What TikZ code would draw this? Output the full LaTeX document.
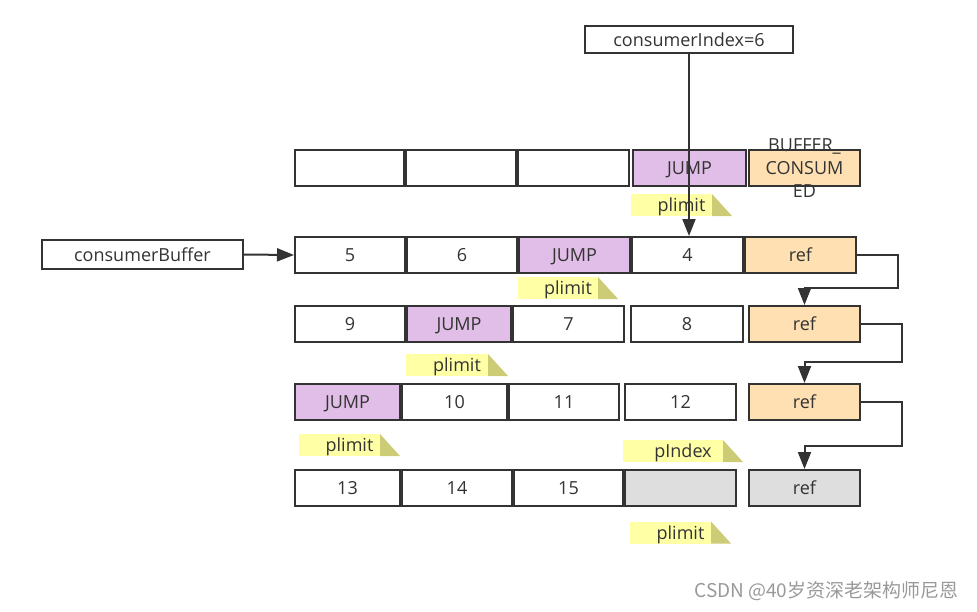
\documentclass[tikz,border=0pt]{standalone}
\usepackage{fontspec}
\setmainfont{Open Sans}
\newfontfamily\cjk{Noto Sans CJK SC}
\usetikzlibrary{arrows.meta}
\definecolor{linec}{HTML}{333333}
\definecolor{jumpc}{HTML}{E1BEE7}
\definecolor{refc}{HTML}{FFE0B2}
\definecolor{usedc}{HTML}{DEDEDE}
\definecolor{notec}{HTML}{FFFFA6}
\definecolor{foldc}{HTML}{CCCC77}
\begin{document}
\begin{tikzpicture}[x=1pt,y=-1pt,
  every node/.style={text=linec,font=\fontsize{18}{23}\selectfont},
  cell/.style={draw=linec,line width=2pt,inner sep=0pt,minimum height=36pt,text depth=0pt},
  tag/.style={inner sep=0pt,minimum height=22pt,text depth=0pt,path picture={
    \fill[notec] (path picture bounding box.north west) rectangle ([xshift=-20pt]path picture bounding box.south east);
    \fill[foldc] ([xshift=-20pt]path picture bounding box.north east) -- (path picture bounding box.south east)
      -- ([xshift=-20pt]path picture bounding box.south east) -- cycle;}},
  link/.style={draw=linec,line width=2pt,-{Triangle[width=13pt,length=17pt]}}]
  \useasboundingbox (0,0) rectangle (977,611);
  % the buffers, one row each
  \foreach \l/\r/\t/\f [count=\i] in {294/405//white,405/517//white,517/630//white,632/747/JUMP/jumpc,748/861//refc}
    \node[cell,fill=\f,minimum width=\r-\l-2] (r0c\i) at ({(\l+\r)/2},168) {\t};
  \node[align=center] (spent) at (r0c5) {BUFFER\_\\CONSUM\\ED};
  \foreach \l/\r/\t/\f [count=\i] in {294/406/5/white,406/518/6/white,518/631/JUMP/jumpc,631/744/4/white,744/857/ref/refc}
    \node[cell,fill=\f,minimum width=\r-\l-2] (r1c\i) at ({(\l+\r)/2},255) {\t};
  \foreach \l/\r/\t/\f [count=\i] in {294/406/9/white,406/512/JUMP/jumpc,512/625/7/white,630/744/8/white,748/861/ref/refc}
    \node[cell,fill=\f,minimum width=\r-\l-2] (r2c\i) at ({(\l+\r)/2},324) {\t};
  \foreach \l/\r/\t/\f [count=\i] in {294/401/JUMP/jumpc,401/508/10/white,508/620/11/white,624/737/12/white,748/861/ref/refc}
    \node[cell,fill=\f,minimum width=\r-\l-2] (r3c\i) at ({(\l+\r)/2},402) {\t};
  \foreach \l/\r/\t/\f [count=\i] in {294/401/13/white,401/513/14/white,513/624/15/white,624/737//usedc,748/861/ref/usedc}
    \node[cell,fill=\f,minimum width=\r-\l-2] (r4c\i) at ({(\l+\r)/2},488) {\t};
  % notes
  \foreach \n/\x/\y/\w/\t in {lim0/681.5/205/101/plimit,lim1/568/288/100/plimit,lim2/457/365/102/plimit,
      lim3/349.5/445/101/plimit,pidx/683/451/120/pIndex,lim4/680.5/532.5/101/plimit}
    \node[tag,minimum width=\w pt] (\n) at (\x,\y) {\t};
  \node[cell,minimum width=208pt,minimum height=27pt] (idx) at (689,39.5) {consumerIndex=6};
  \node[cell,minimum width=201pt,minimum height=29pt] (buf) at (142.5,254.5) {consumerBuffer};
  \draw[link] (idx.south) -- (idx.south |- r1c4.north);
  \draw[link] (buf.east) -- (r1c1.west);
  \foreach \a/\b/\d in {1/2/17,2/3/21,3/4/23}
    \draw[link] (r\a c5.east) -- ++(41,0) |- ([yshift=\d pt]r\b c5.north) -- (r\b c5.north);
  \node[font=\cjk\fontsize{19}{22}\selectfont,text=black!40,anchor=east] (mark) at (962,591) {CSDN @40岁资深老架构师尼恩};
\end{tikzpicture}
\end{document}
